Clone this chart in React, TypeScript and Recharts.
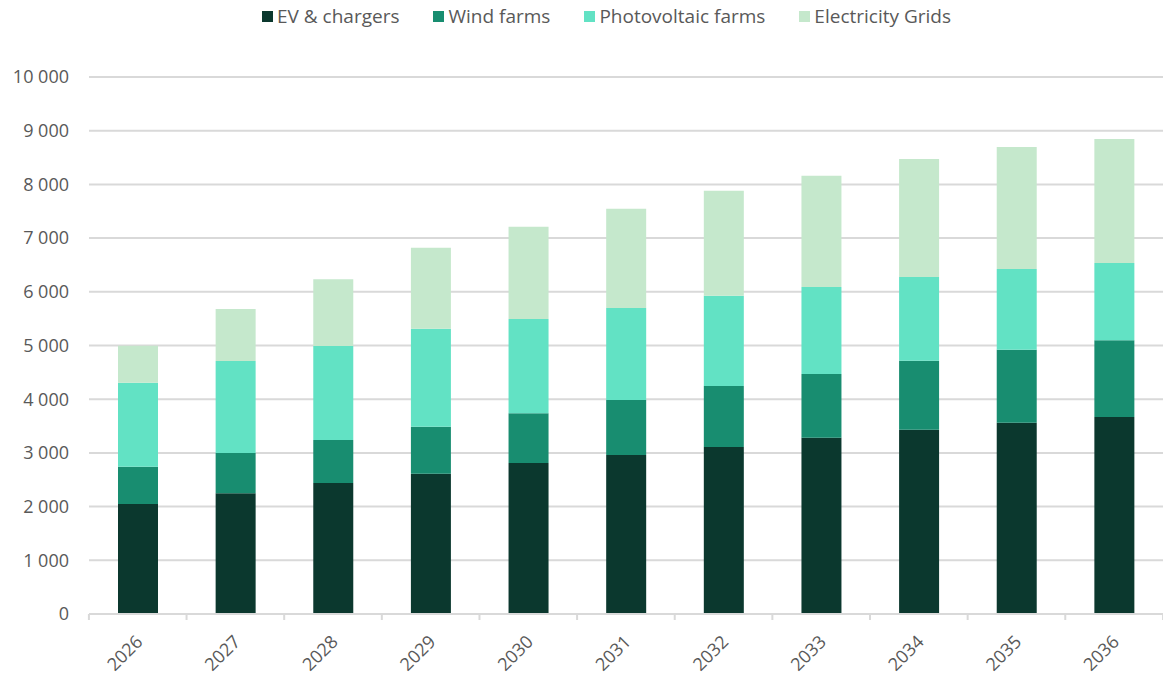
import React from 'react';
import { BarChart, Bar, XAxis, YAxis, CartesianGrid, Legend } from 'recharts';

const years = ['2026', '2027', '2028', '2029', '2030', '2031', '2032', '2033', '2034', '2035', '2036'];
const evChargers = [2050, 2250, 2440, 2610, 2810, 2960, 3110, 3280, 3430, 3560, 3670];
const windFarms = [690, 750, 800, 875, 930, 1025, 1135, 1190, 1285, 1360, 1430];
const pvFarms = [1565, 1710, 1750, 1825, 1755, 1715, 1680, 1620, 1560, 1505, 1435];
const grids = [690, 970, 1245, 1510, 1715, 1845, 1955, 2070, 2200, 2270, 2310];
const yTicks = [0, 1000, 2000, 3000, 4000, 5000, 6000, 7000, 8000, 9000, 10000];

const series = [
  { key: 'ev', name: 'EV & chargers', color: '#0b382e' },
  { key: 'wind', name: 'Wind farms', color: '#188d70' },
  { key: 'pv', name: 'Photovoltaic farms', color: '#62e2c4' },
  { key: 'grid', name: 'Electricity Grids', color: '#c5e8cc' },
];

const data = years.map((year, i) => ({
  year,
  ev: evChargers[i],
  wind: windFarms[i],
  pv: pvFarms[i],
  grid: grids[i],
}));

const FONT = '"Open Sans", sans-serif';
const TEXT = '#595959';

const fmt = (v: number) => String(v).replace(/\B(?=(\d{3})+(?!\d))/g, ' ');

const XTick = (props: any) => {
  const { x, y, payload, index } = props;
  const half = 48.9;
  return (
    <g>
      <line x1={x - half} x2={x - half} y1={y - 8} y2={y - 2} stroke="#d9d9d9" strokeWidth={2} />
      {index === years.length - 1 && (
        <line x1={x + half} x2={x + half} y1={y - 8} y2={y - 2} stroke="#d9d9d9" strokeWidth={2} />
      )}
      <text
        x={x + 6}
        y={y + 21}
        textAnchor="end"
        transform={`rotate(-45, ${x + 6}, ${y + 21})`}
        fill={TEXT}
        fontSize={18}
        fontFamily={FONT}
      >
        {payload.value}
      </text>
    </g>
  );
};

const LegendContent = () => (
  <div style={{ display: 'flex', justifyContent: 'center', fontFamily: FONT, fontSize: 19, color: TEXT, paddingLeft: 50 }}>
    {series.map((s) => (
      <div key={s.key} style={{ display: 'flex', alignItems: 'center', margin: '0 17px' }}>
        <span style={{ width: 11, height: 11, background: s.color, display: 'inline-block', marginRight: 4 }} />
        <span>{s.name}</span>
      </div>
    ))}
  </div>
);

export default function App() {
  return (
    <div style={{ position: 'absolute', left: 0, top: 0, background: '#fff' }}>
      <BarChart width={1163} height={676} data={data} margin={{ top: 77, right: 0, bottom: 0, left: 0 }}>
        <CartesianGrid vertical={false} stroke="#d9d9d9" strokeWidth={2} />
        <Legend
          verticalAlign="top"
          content={<LegendContent />}
          wrapperStyle={{ position: 'absolute', top: 3, left: 0, width: 1163, height: 0 }}
        />
        <XAxis
          dataKey="year"
          interval={0}
          height={62}
          axisLine={{ stroke: '#d9d9d9', strokeWidth: 2 }}
          tickLine={false}
          tick={<XTick />}
        />
        <YAxis
          width={89}
          domain={[0, 10000]}
          ticks={yTicks}
          axisLine={false}
          tickLine={false}
          tickMargin={14}
          tickFormatter={fmt}
          tick={{ fill: TEXT, fontSize: 18, fontFamily: FONT }}
        />
        {series.map((s) => (
          <Bar key={s.key} dataKey={s.key} name={s.name} stackId="a" fill={s.color} barSize={40} isAnimationActive={false} />
        ))}
      </BarChart>
    </div>
  );
}
